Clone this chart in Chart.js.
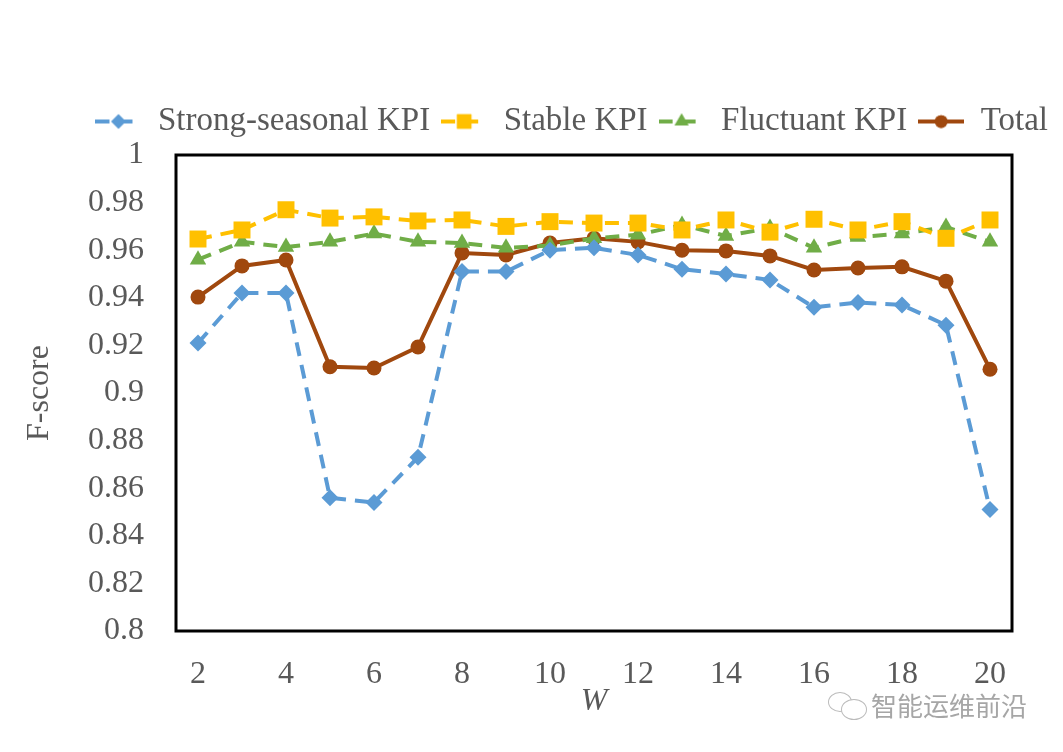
<!DOCTYPE html>
<html>
<head>
<meta charset="utf-8">
<script src="https://cdn.jsdelivr.net/npm/chart.js@4/dist/chart.umd.min.js"></script>
<style>
	html, body { margin: 0; padding: 0; background: #fff; }
	#wrap { position: relative; width: 1063px; height: 752px; }
	#mark { position: absolute; left: 871px; top: 686px; font: 26px "Noto Sans CJK SC"; color: #a6a6a6; }
	#icon { position: absolute; left: 828px; top: 692px; width: 40px; height: 28px; }
	#icon span { position: absolute; border: 1.5px solid #bbb; border-radius: 50%; background: #fff; }
</style>
</head>
<body>
<div id="wrap">
	<canvas id="grafico" width="1063" height="752"></canvas>
	<div id="icon"><span style="left:0;top:0;width:22px;height:18px"></span><span style="left:13px;top:7px;width:24px;height:19px"></span></div>
	<div id="mark">智能运维前沿</div>
</div>
<script>
const ws = ['2','3','4','5','6','7','8','9','10','11','12','13','14','15','16','17','18','19','20'];
const seasonal = [0.921, 0.942, 0.942, 0.856, 0.854, 0.873, 0.951, 0.951, 0.960, 0.961, 0.958, 0.952, 0.950, 0.9475, 0.936, 0.938, 0.937, 0.9285, 0.851];
const stable = [0.9647, 0.9685, 0.977, 0.9735, 0.974, 0.9723, 0.9727, 0.970, 0.972, 0.9714, 0.9714, 0.9685, 0.9727, 0.9676, 0.973, 0.9685, 0.972, 0.965, 0.9727];
const fluctuant = [0.956, 0.9635, 0.9613, 0.9635, 0.967, 0.9635, 0.963, 0.961, 0.962, 0.965, 0.9665, 0.9706, 0.966, 0.9693, 0.961, 0.9655, 0.967, 0.9697, 0.9635];
const total = [0.9403, 0.9534, 0.9559, 0.911, 0.9105, 0.9193, 0.9588, 0.958, 0.963, 0.965, 0.9635, 0.960, 0.9597, 0.9576, 0.9517, 0.9525, 0.953, 0.947, 0.910];

const gris = '#595959';
const fonte = 'Liberation Serif';

// little legend picture: line piece + marker
function iconeLegenda(cor, dash, estilo, raio) {
	const c = document.createElement('canvas');
	c.width = 46; c.height = 22;
	const ctx = c.getContext('2d');
	ctx.strokeStyle = cor;
	ctx.lineWidth = 4;
	ctx.setLineDash(dash);
	ctx.beginPath();
	ctx.moveTo(0, 11);
	ctx.lineTo(46, 11);
	ctx.stroke();
	ctx.setLineDash([]);
	ctx.fillStyle = cor;
	Chart.helpers.drawPoint(ctx, { pointStyle: estilo, radius: raio * 0.85, rotation: 0, borderWidth: 0 }, 23, 11);
	ctx.fill();
	return c;
}

const caixa = {
	id: 'caixa',
	afterDatasetsDraw(chart) {
		const a = chart.chartArea;
		const ctx = chart.ctx;
		ctx.save();
		ctx.strokeStyle = '#000';
		ctx.lineWidth = 3;
		ctx.strokeRect(a.left, a.top, a.right - a.left, a.bottom - a.top);
		ctx.restore();
	}
};

function serie(label, dados, cor, dash, estilo, raio) {
	return {
		label: label,
		data: dados,
		borderColor: cor,
		backgroundColor: cor,
		borderWidth: 4,
		borderDash: dash,
		pointStyle: estilo,
		pointRadius: raio,
		pointBorderWidth: 0,
		pointBackgroundColor: cor,
		tension: 0,
		icone: iconeLegenda(cor, dash, estilo, raio)
	};
}

const datasets = [
	serie('Strong-seasonal KPI', seasonal, '#5B9BD5', [14, 9], 'rectRot', 8.5),
	serie('Stable KPI', stable, '#FFC000', [14, 9], 'rect', 12),
	serie('Fluctuant KPI', fluctuant, '#70AD47', [14, 9], 'triangle', 9.5),
	serie('Total', total, '#A0480E', [], 'circle', 7.5)
];

new Chart(document.getElementById('grafico'), {
	type: 'line',
	data: { labels: ws, datasets: datasets },
	plugins: [caixa],
	options: {
		responsive: false,
		animation: false,
		layout: { padding: { top: 94, left: 20, right: 4, bottom: 31 } },
		plugins: {
			legend: {
				position: 'top',
				align: 'end',
				labels: {
					usePointStyle: true,
					pointStyleWidth: 46,
					padding: 11,
					color: gris,
					font: { family: fonte, size: 33 },
					generateLabels(chart) {
						return chart.data.datasets.map((d, i) => ({
							text: d.label,
							pointStyle: d.icone,
							fillStyle: d.borderColor,
							strokeStyle: d.borderColor,
							lineWidth: 0,
							fontColor: gris,
							hidden: false,
							datasetIndex: i
						}));
					}
				}
			},
			tooltip: { enabled: false }
		},
		scales: {
			x: {
				type: 'category',
				offset: true,
				grid: { display: false },
				border: { display: false },
				afterFit(s) { s.height = 90; },
				ticks: {
					autoSkip: false,
					maxRotation: 0,
					padding: 16,
					color: gris,
					font: { family: fonte, size: 32 },
					callback: (v, i) => (Number(ws[i]) % 2 === 0 ? ws[i] : '')
				},
				title: { display: true, text: 'W', color: gris, padding: 0, font: { family: fonte, size: 32, style: 'italic' } }
			},
			x2: {
				position: 'top',
				grid: { display: false },
				border: { display: false },
				ticks: { display: false },
				afterFit(s) { s.height = 7; }
			},
			y: {
				min: 0.8,
				max: 1,
				grid: { display: false },
				border: { display: false },
				afterFit(s) { s.width = 156; },
				ticks: {
					stepSize: 0.02,
					padding: 24,
					color: gris,
					font: { family: fonte, size: 32 },
					callback: (v) => String(Number(v.toFixed(2)))
				},
				title: { display: true, text: 'F-score', color: gris, padding: 0, font: { family: fonte, size: 32 } }
			},
			y2: {
				position: 'right',
				grid: { display: false },
				border: { display: false },
				ticks: { display: false },
				afterFit(s) { s.width = 47; }
			}
		}
	}
});
</script>
</body>
</html>
